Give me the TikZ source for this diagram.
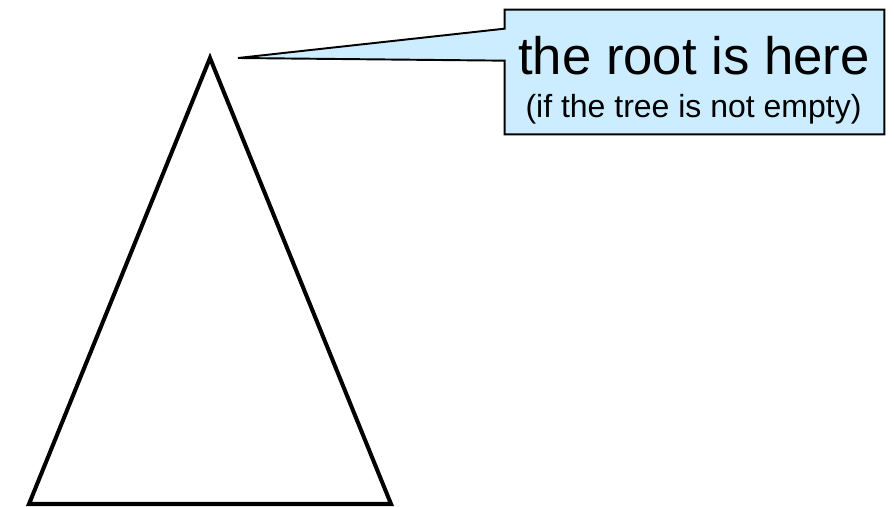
\documentclass[tikz,border=0pt]{standalone}
\usepackage{fontspec}
\setmainfont{Liberation Sans}
\usepackage{xcolor}
\usetikzlibrary{calc}
\definecolor{noteblue}{HTML}{CCECFF}

\begin{document}
\begin{tikzpicture}[
  x=0.02cm, y=-0.02cm,
  tree/.style={draw=black, line width=2.3pt, line join=miter},
  note/.style={minimum width=7.58cm, minimum height=2.48cm, inner sep=0pt},
  noteline/.style={draw=black, fill=noteblue, line width=1.1pt},
  big/.style={font=\fontsize{30}{30}\selectfont, anchor=base, inner sep=0pt},
  small/.style={font=\fontsize{18.2}{18.2}\selectfont, anchor=base, inner sep=0pt}
]
\useasboundingbox (0,0) rectangle (894,507);

%% the tree
\coordinate (apex)  at (210,58);
\coordinate (left)  at (29,504);
\coordinate (right) at (391,504);
\draw[tree] (apex) -- (left) -- (right) -- cycle;

%% callout
\coordinate (tip) at (238,58);
\node[note] (box) at (694.5,72) {};
\draw[noteline] (box.north west) -- (box.north east) -- (box.south east)
  -- (box.south west) -- ($(box.north west)+(0,51)$) -- (tip)
  -- ($(box.north west)+(0,19)$) -- cycle;

\node[big]   (head) at (694,74)    {the root is here};
\node[small] (sub)  at (693.5,117) {(if the tree is not empty)};
\end{tikzpicture}
\end{document}
